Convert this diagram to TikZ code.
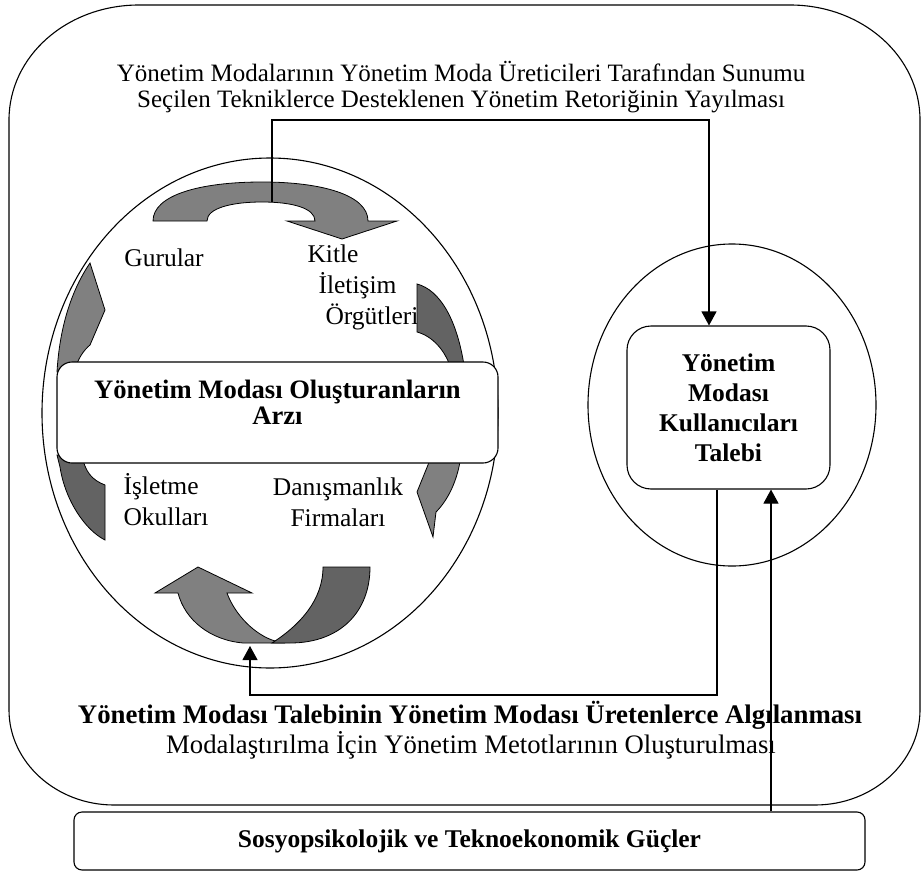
\documentclass[tikz,border=0pt]{standalone}
\usepackage{fontspec}
\setmainfont{Liberation Serif}
\usetikzlibrary{arrows.meta,shapes.geometric}
\definecolor{lightg}{HTML}{808080}
\definecolor{darkg}{HTML}{636363}
\begin{document}
\begin{tikzpicture}[x=1pt,y=-1pt,line width=1.1pt,
  txt/.style={font=\fontsize{25}{26}\selectfont,inner sep=0pt,align=center},
  lbl/.style={font=\fontsize{25.5}{31}\selectfont,inner sep=0pt},
  band/.style={draw=black,line width=0.8pt},
  rbox/.style={draw,fill=white,align=center,inner sep=0pt},
  oval/.style={draw,ellipse,inner sep=0pt},
  arr/.style={-{Triangle[length=14pt,width=15pt]}}]
\useasboundingbox (0,0) rectangle (923,872);
% outer frame
\draw (139,5) -- (790,5) .. controls (862,5) and (920,56) .. (920,120)
  -- (920,710) .. controls (920,762) and (873,805) .. (815,805)
  -- (114,805) .. controls (56,805) and (9,762) .. (9,710)
  -- (9,120) .. controls (9,56) and (67,5) .. (139,5) -- cycle;
% ovals
\node[oval,minimum width=456pt,minimum height=510pt] (supply) at (270,413) {};
\node[oval,minimum width=288pt,minimum height=322pt] (demand) at (732,405) {};
% texts
\node[txt] (toptext) at (461,87) {Yönetim Modalarının Yönetim Moda Üreticileri Tarafından Sunumu\\Seçilen Tekniklerce Desteklenen Yönetim Retoriğinin Yayılması};
\node[txt,font=\bfseries\fontsize{26.8}{27}\selectfont] (perc) at (470,715) {Yönetim Modası Talebinin Yönetim Modası Üretenlerce Algılanması};
\node[txt,font=\fontsize{26.7}{27}\selectfont] (meth) at (471,745) {Modalaştırılma İçin Yönetim Metotlarının Oluşturulması};
\node[lbl] (guru) at (164,258) {Gurular};
\node[lbl,align=left,anchor=north west] (kitle) at (307,244) {Kitle\\\hspace*{11pt}İletişim\\\hspace*{18pt}Örgütleri};
\node[lbl,align=left,anchor=north west] (isl) at (123,473) {İşletme\\Okulları};
\node[lbl,align=center] (dan) at (338,502) {Danışmanlık\\Firmaları};
% top curved arrow
\draw[band,fill=lightg] (153,221) .. controls (153,195) and (200,182) .. (262,182)
  .. controls (322,182) and (368,195) .. (368,221) -- (397,221) -- (342,239) -- (287,221) -- (315,221)
  .. controls (315,208) and (292,202) .. (262,202) .. controls (232,202) and (207,208) .. (207,221) -- cycle;
% right arrow
\draw[band,fill=darkg] (417,284) .. controls (440,290) and (458,320) .. (465,372) -- (452,372)
  .. controls (446,350) and (432,336) .. (417,332) -- cycle;
\draw[band,fill=lightg] (432,455) -- (417,492) -- (433,537) -- (436,512)
  .. controls (448,500) and (458,480) .. (461,455) -- cycle;
% left arrow
\draw[band,fill=lightg] (90,263) -- (105,310) -- (90,345) .. controls (84,350) and (78,358) .. (74,372)
  -- (57,372) .. controls (60,320) and (75,285) .. (90,263) -- cycle;
\draw[band,fill=darkg] (57,455) -- (60,467) .. controls (65,500) and (85,530) .. (105,540)
  -- (105,485) .. controls (92,480) and (85,472) .. (82,455) -- cycle;
% bottom arrow
\draw[band,fill=lightg] (155,593) -- (198,567) -- (252,593) -- (227,593)
  .. controls (235,615) and (255,635) .. (275,641) -- (285,643) -- (243,643)
  .. controls (210,640) and (185,620) .. (178,593) -- cycle;
\draw[band,fill=darkg] (323,567) -- (370,567) .. controls (370,612) and (340,643) .. (290,643)
  -- (272,643) .. controls (300,625) and (323,600) .. (323,567) -- cycle;
% boxes
\node[rbox,rounded corners=15pt,minimum width=441pt,minimum height=101pt,
  font=\bfseries\fontsize{26.6}{26}\selectfont,text depth=20pt] (arz) at (277.5,412.5)
  {Yönetim Modası Oluşturanların\\Arzı};
\node[rbox,rounded corners=24pt,minimum width=203pt,minimum height=163pt,
  font=\bfseries\fontsize{25.5}{30}\selectfont] (talebi) at (728.5,407.5)
  {Yönetim\\Modası\\Kullanıcıları\\Talebi};
\node[rbox,rounded corners=8pt,minimum width=791pt,minimum height=58pt,
  font=\bfseries\fontsize{25.5}{26}\selectfont] (forces) at (469.5,841)
  {Sosyopsikolojik ve Teknoekonomik Güçler};
% connectors
\coordinate (ta) at (272,202);
\coordinate (tc) at (709,120);
\draw[arr] (ta) |- (tc) -- (tc |- talebi.north);
\coordinate (bb) at (717,695);
\coordinate (ba) at (250,646);
\draw[arr] (bb |- talebi.south) -- (bb) -| (ba);
\coordinate (fc) at (771,0);
\draw[arr] (fc |- forces.north) -- (fc |- talebi.south);
\end{tikzpicture}
\end{document}
